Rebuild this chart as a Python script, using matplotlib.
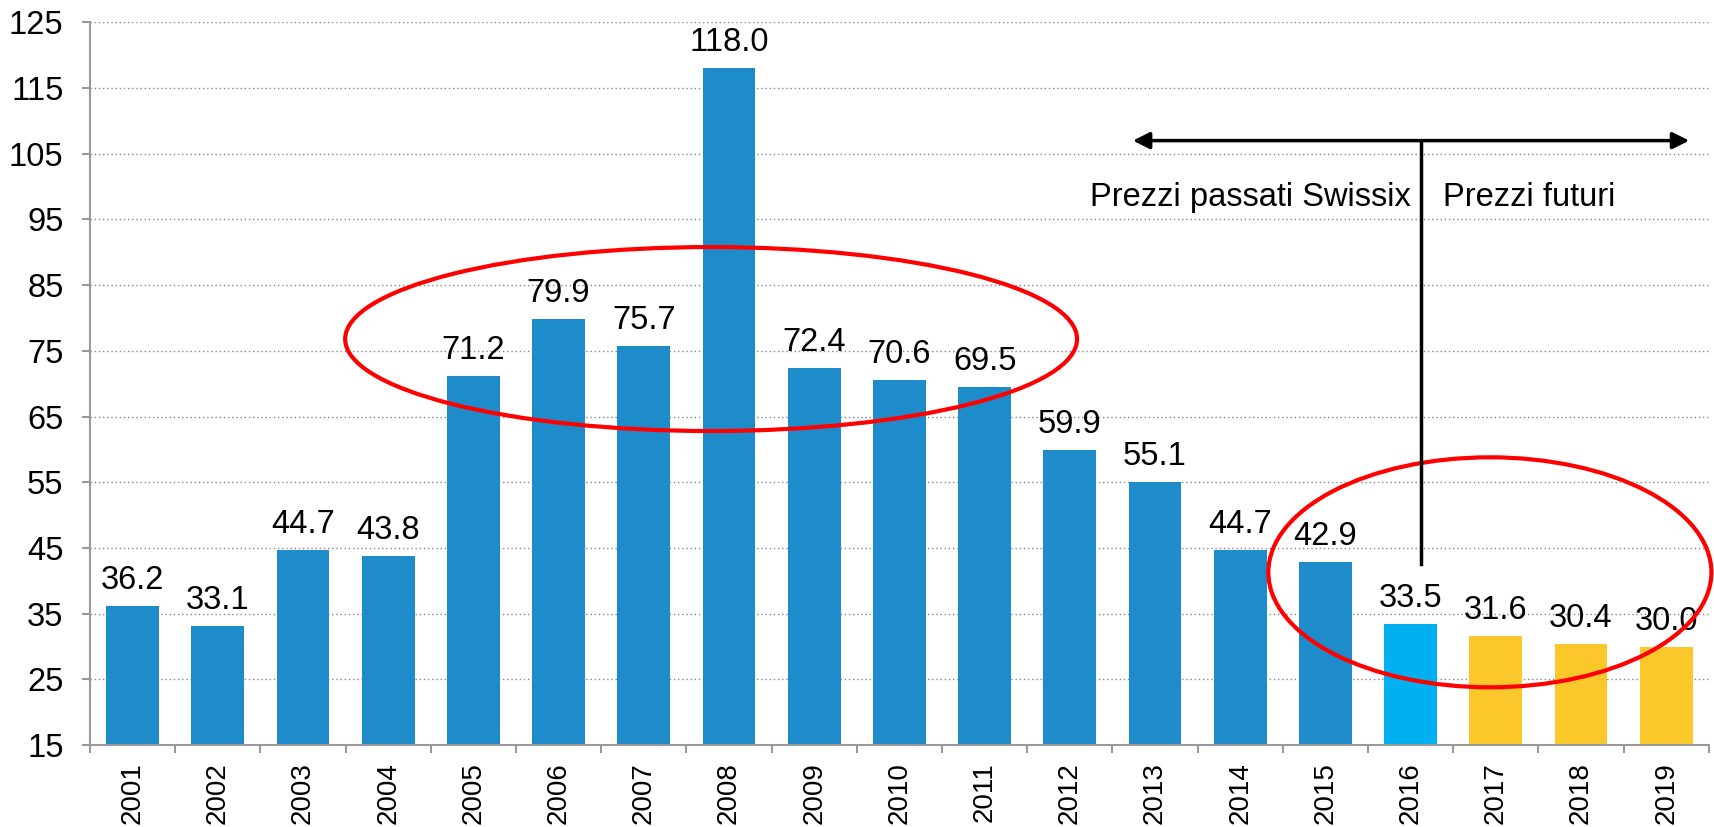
import matplotlib.pyplot as plt
from matplotlib.patches import Ellipse
import numpy as np

plt.rcParams['font.family'] = ['Liberation Sans', 'DejaVu Sans']

years = [str(y) for y in range(2001, 2020)]
prices = [36.2, 33.1, 44.7, 43.8, 71.2, 79.9, 75.7, 118.0, 72.4, 70.6,
          69.5, 59.9, 55.1, 44.7, 42.9, 33.5, 31.6, 30.4, 30.0]
colors = ['#1E8CCB'] * 15 + ['#00B0F0'] + ['#FCC72A'] * 3
yticks = list(range(15, 126, 10))

fig = plt.figure(figsize=(17.14, 8.27), dpi=100)
ax = fig.add_axes([0.0525, 0.099, 0.9445, 0.874])

x = np.arange(len(years))
ax.bar(x, np.array(prices) - 15, bottom=15, width=0.62, color=colors, zorder=2)

for xi, v in zip(x, prices):
    ax.text(xi, v + 1.5, '%.1f' % v, ha='center', va='bottom', fontsize=23.5, zorder=4)

ax.set_xlim(-0.5, len(years) - 0.5)
ax.set_ylim(15, 125)
ax.set_yticks(yticks)
ax.set_yticklabels([str(t) for t in yticks], fontsize=23.5)
ax.set_xticks(x)
ax.set_xticklabels(years, rotation=90, fontsize=20)
ax.set_xticks(np.arange(-0.5, len(years), 1), minor=True)
ax.tick_params(axis='x', which='major', length=0, pad=12)
ax.tick_params(axis='x', which='minor', length=6, color='#999999', width=1.5)
ax.tick_params(axis='y', length=6, color='#999999', width=1.5, pad=13)

ax.yaxis.grid(True, linestyle=(0, (1, 2)), color='#888888', linewidth=1, zorder=0)
ax.set_axisbelow(True)
for s in ['top', 'right']:
    ax.spines[s].set_visible(False)
for s in ['left', 'bottom']:
    ax.spines[s].set_color('#999999')
    ax.spines[s].set_linewidth(1.5)

# ellipses
ax.add_patch(Ellipse((6.79, 76.8), 8.59, 28.0, fill=False, edgecolor='#FF0000',
                     linewidth=3, zorder=5))
ax.add_patch(Ellipse((15.93, 41.3), 5.2, 35.0, fill=False, edgecolor='#FF0000',
                     linewidth=3, zorder=5, clip_on=False))

# arrows and divider
ax.annotate('', xy=(11.74, 107.0), xytext=(15.12, 107.0),
            arrowprops=dict(arrowstyle='-|>', color='black', lw=2.5, mutation_scale=25,
                            shrinkA=0, shrinkB=0), zorder=6)
ax.annotate('', xy=(18.27, 107.0), xytext=(15.12, 107.0),
            arrowprops=dict(arrowstyle='-|>', color='black', lw=2.5, mutation_scale=25,
                            shrinkA=0, shrinkB=0), zorder=6)
ax.plot([15.12, 15.12], [107.0, 42.6], color='black', lw=2.5, zorder=6)
ax.text(15.0, 98.4, 'Prezzi passati Swissix', ha='right', va='center', fontsize=23.5)
ax.text(15.38, 98.4, 'Prezzi futuri', ha='left', va='center', fontsize=23.5)

fig.savefig('out.png', dpi=100)
